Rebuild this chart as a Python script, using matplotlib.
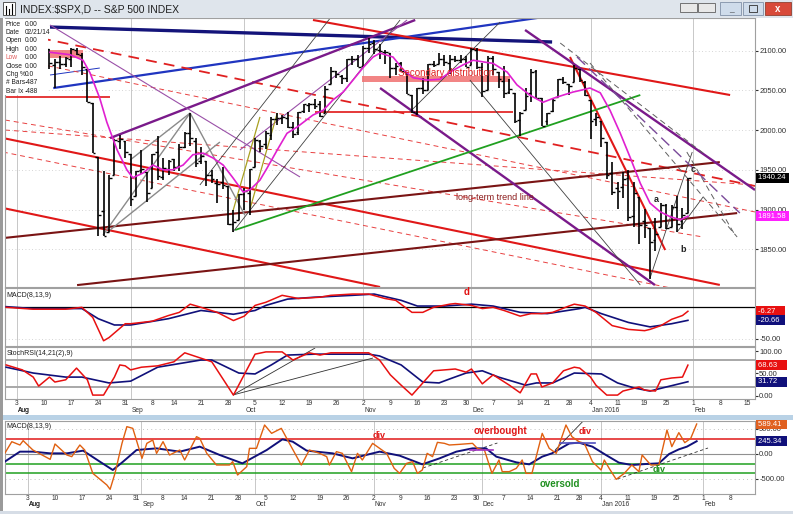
import numpy as np
import pandas as pd
import matplotlib
matplotlib.use("Agg")
import matplotlib.pyplot as plt
from matplotlib.patches import Rectangle

plt.rcParams['font.family'] = ['Liberation Sans', 'DejaVu Sans']

W, H = 793, 514

# trading days, position 0 = Aug 3 2015 (future weekdays kept for the axis)
holidays = ["2015-09-07", "2015-11-26", "2015-12-25", "2016-01-01", "2016-01-18"]
days = pd.bdate_range("2015-07-29", "2016-02-19")
days = days[~days.isin(pd.to_datetime(holidays))]
pos_all = np.arange(len(days)) - 3

# ---- S&P 500 daily bars, Jul 29 2015 .. Jan 29 2016 ----
opens = [2094, 2106, 2111,
         2104, 2097, 2095, 2100, 2082, 2081, 2102, 2082, 2086, 2083,
         2089, 2101, 2095, 2077, 2034, 1966, 1898, 1872, 1943, 1986,
         1986, 1970, 1917, 1950, 1947, 1927, 1972, 1941, 1951,
         1963, 1955, 1979, 1996, 1986, 1961, 1961, 1943, 1934, 1935,
         1929, 1882, 1887, 1920, 1921, 1954, 1986, 1983, 1994, 2014,
         2015, 2015, 2004, 1997, 2024, 2031, 2033, 2033, 2022, 2058,
         2075, 2068, 2066, 2089, 2090, 2081, 2103, 2110, 2101, 2098,
         2097, 2078, 2084, 2073, 2044, 2022, 2053, 2051, 2083, 2083,
         2089, 2084, 2089, 2088, 2090, 2082, 2101, 2080, 2051,
         2091, 2073, 2062, 2048, 2047, 2013, 2025, 2047, 2074, 2040,
         2011, 2024, 2042, 2064, 2058, 2060, 2077, 2061,
         2038, 2014, 2011, 1985, 1946, 1927, 1928, 1940, 1892, 1916,
         1886, 1877, 1861, 1878, 1906, 1878, 1903, 1885, 1895]
highs = [2110, 2110, 2114,
         2105, 2102, 2112, 2104, 2082, 2105, 2102, 2089, 2093, 2092,
         2103, 2103, 2097, 2077, 2034, 1966, 1948, 1943, 1989, 1994,
         1986, 1970, 1948, 1975, 1947, 1970, 1993, 1965, 1962,
         1964, 1983, 1997, 2021, 1990, 1979, 1961, 1950, 1938, 1953,
         1929, 1899, 1920, 1927, 1951, 1990, 1988, 1999, 2016, 2021,
         2019, 2023, 2010, 2023, 2033, 2034, 2039, 2037, 2055, 2079,
         2075, 2070, 2090, 2093, 2095, 2106, 2116, 2114, 2108, 2101,
         2097, 2084, 2086, 2073, 2044, 2053, 2066, 2083, 2087, 2097,
         2095, 2094, 2093, 2094, 2093, 2103, 2104, 2085, 2093,
         2093, 2073, 2081, 2065, 2047, 2023, 2053, 2077, 2076, 2040,
         2022, 2040, 2064, 2067, 2058, 2082, 2077, 2062,
         2038, 2021, 2011, 1985, 1960, 1935, 1947, 1950, 1935, 1916,
         1901, 1877, 1889, 1908, 1907, 1906, 1917, 1902, 1940]
lows = [2094, 2094, 2102,
        2088, 2088, 2095, 2073, 2068, 2081, 2077, 2053, 2077, 2080,
        2079, 2094, 2070, 2035, 1971, 1867, 1867, 1872, 1943, 1976,
        1965, 1904, 1917, 1945, 1909, 1927, 1937, 1937, 1944,
        1948, 1949, 1977, 1980, 1953, 1957, 1930, 1933, 1908, 1926,
        1880, 1872, 1887, 1900, 1893, 1954, 1972, 1976, 1987, 2007,
        2008, 2003, 1990, 1994, 2021, 2023, 2026, 2017, 2022, 2058,
        2066, 2058, 2060, 2082, 2079, 2081, 2097, 2096, 2090, 2083,
        2066, 2070, 2074, 2045, 2022, 2019, 2045, 2051, 2080, 2083,
        2081, 2071, 2086, 2084, 2080, 2082, 2077, 2042, 2051,
        2070, 2053, 2041, 2045, 2009, 1993, 2025, 2035, 2041, 2005,
        2006, 2023, 2042, 2058, 2044, 2060, 2061, 2043,
        1989, 2005, 1979, 1938, 1918, 1901, 1914, 1886, 1878, 1857,
        1864, 1812, 1848, 1878, 1876, 1878, 1872, 1875, 1895]
closes = [2108, 2108, 2104,
          2098, 2093, 2099, 2083, 2077, 2104, 2084, 2086, 2083, 2091,
          2102, 2096, 2079, 2035, 1971, 1893, 1867, 1940, 1988, 1989,
          1972, 1913, 1948, 1951, 1921, 1970, 1942, 1952, 1961,
          1953, 1979, 1996, 1990, 1958, 1967, 1943, 1938, 1932, 1931,
          1882, 1884, 1920, 1923, 1951, 1987, 1980, 1996, 2014, 2015,
          2017, 2004, 1995, 2023, 2033, 2033, 2030, 2018, 2052, 2075,
          2071, 2066, 2090, 2089, 2079, 2104, 2109, 2102, 2100, 2099,
          2078, 2081, 2075, 2045, 2023, 2053, 2050, 2083, 2082, 2089,
          2086, 2089, 2088, 2090, 2080, 2102, 2079, 2049, 2091,
          2077, 2064, 2047, 2052, 2012, 2022, 2043, 2073, 2041, 2005,
          2021, 2038, 2064, 2061, 2056, 2078, 2063, 2044,
          2012, 2016, 1990, 1943, 1922, 1923, 1938, 1890, 1921, 1880,
          1881, 1859, 1869, 1906, 1877, 1903, 1882, 1893, 1940.24]

# pink moving average (day position, value)
ma_day = [6.1, 9.8, 12.2, 13.5, 15.3, 16.6, 18.5, 20.3, 21.4, 23.3, 25.1, 27, 28.8,
          30.7, 32.5, 34.4, 36.2, 38.1, 39.9, 41.8, 43.1, 44.9, 46.2, 48.1, 49.9,
          51.8, 54.7, 56.6, 58.4, 60.3, 62.1, 64, 65.8, 67.1, 69.5, 71.4, 73.2,
          75.8, 78.2, 80, 82.4, 84.3, 86.1, 88, 90.6, 92.4, 94.8, 97.2, 99.1,
          100.9, 102.8, 104.1, 105.9, 107.8, 109.6, 111.5, 113.3, 115.2, 117,
          118.9, 120.7, 122.6, 124]
ma_val = [2098, 2095, 2088, 2072, 2040, 2010, 1975, 1950, 1940, 1946, 1956, 1950, 1950,
          1956, 1969, 1971, 1965, 1956, 1940, 1922, 1925, 1937, 1952, 1975, 1996,
          2004, 2019, 2025, 2038, 2048, 2063, 2079, 2092, 2097, 2092, 2076, 2066,
          2063, 2064, 2073, 2082, 2088, 2086, 2084, 2073, 2057, 2044, 2035, 2040,
          2044, 2048, 2050, 2053, 2047, 2025, 1996, 1966, 1933, 1908,
          1897, 1891, 1887, 1891.58]

# MACD(8,13,9) panel
macd_day = [-2, 3, 9, 12, 14, 16, 17, 20, 21, 25, 28, 30, 32, 34, 37, 40, 42, 44, 46, 49,
            52, 56, 58, 62, 65, 68, 70, 73, 75, 77, 80, 81, 84, 86, 88, 90, 93, 95, 97, 99,
            102, 103, 105, 107, 110, 113, 116, 117, 119, 121, 123, 124]
macd_val = [0, -3, -3, 0, -16, -53, -48, -26, -26, -22, -13, -8, 5, 0, -8, -21, -14, 3, 8, 19,
            14, 16, 19, 21, 21, 14, 11, -8, -8, 0, 5, 6, 3, -2, 0, -5, -14, -10, -10, -8,
            2, 5, 2, -8, -29, -35, -37, -35, -29, -19, -13, -6.27]
sig_day = [-2, 3, 9, 12, 15, 18, 21, 28, 34, 37, 40, 44, 46, 50, 55, 62, 66, 71, 74, 79,
           84, 88, 93, 98, 104, 105, 108, 113, 117, 121, 124]
sig_val = [1, -2, -2, -2, -18, -28, -28, -18, -5, -8, -11, -5, 3, 13, 16, 19, 21, 11, 2, 2,
           5, 2, -8, -10, -2, 0, -10, -24, -31, -26, -20.66]

# StochRSI(14,21(2),9) panel
st_day = [-2, 1, 3, 4, 6, 7, 9, 11, 13, 14, 16, 18, 19, 20, 21, 23, 26, 29, 31, 34,
          36, 40, 44, 46, 49, 51, 54, 56, 58, 62, 65, 67, 69, 71, 73, 75, 77, 81, 83, 84,
          86, 88, 91, 93, 95, 96, 97, 99, 101, 103, 104, 106, 107, 109, 111, 112, 115, 116,
          118, 119, 121, 123, 124]
st_val = [69, 58, 42, 22, 42, 31, 36, 62, 36, 2, 2, 42, 69, 67, 58, 64, 67, 76, 96, 84,
          76, 2, 93, 98, 98, 80, 96, 91, 96, 96, 96, 80, 47, 24, 2, 29, 56, 60, 53, 60,
          27, 47, 24, 7, 49, 49, 20, 29, 56, 64, 62, 42, 24, 2, 2, 11, 20, 13,
          11, 36, 40, 42, 68.63]
sts_day = [-2, 3, 9, 12, 17, 21, 26, 34, 36, 41, 44, 47, 50, 55, 65, 67, 71, 75, 78, 80,
           83, 86, 89, 94, 96, 99, 101, 103, 108, 111, 114, 117, 120, 124]
sts_val = [64, 51, 42, 42, 29, 33, 64, 80, 80, 51, 49, 69, 91, 93, 93, 89, 69, 31, 29, 38,
           51, 56, 42, 24, 29, 29, 40, 51, 49, 29, 18, 11, 20, 31.72]

# lower MACD(8,13,9) window
lo_day = [-4.3, -3.0, -1.5, -0.9, 0.9, 4.1, 5.0, 7.2, 8.1, 9.6, 10.5, 12.0, 14.6, 15.2, 16.1,
          17.4, 18.3, 19.4, 21.1, 22.0, 23.1, 23.8, 25.0, 26.2, 28.1, 29.0, 31.2, 31.8, 33.1,
          34.9, 37.3, 37.9, 38.8, 40.5, 41.0, 42.3, 43.8, 45.1, 46.9, 48.4, 50.6, 52.1, 54.0,
          55.3, 55.8, 57.1, 58.2, 59.9, 61.0, 61.9, 63.8, 66.4, 67.8, 68.8, 70.1, 71.2, 72.1,
          73.0, 73.9, 74.9, 75.8, 77.1, 78.0, 79.9, 82.3, 83.2, 84.5, 85.9, 87.2, 87.8, 89.1,
          90.4, 91.5, 92.2, 93.3, 95.2, 96.5, 97.8, 99.6, 100.7, 102.0, 103.0, 104.5, 106.1,
          106.7, 107.6, 108.9, 110.4, 111.8, 113.1, 113.7, 115.3, 116.8, 118.3, 119.2, 120.5,
          121.6, 122.7, 123.8]
lo_val = [5, 236, 170, 257, 70, -117, 190, -30, -63, 170, 70, -397, -630, -717, -397,
          203, 537, 503, -97, 203, 270, 3, 237, -30, 70, -130, 337, 303, 3,
          -230, -230, -163, -430, -263, 103, 103, 570, 403, 503, 203, -230, 70, 3,
          -63, -230, 37, 3, -363, 3, -130, 203, 3, -297, -397, -197, -163, -397,
          -330, 3, -63, 223, 203, 170, 183, 203, 103, 70, -397, -130, -363, -363,
          -297, -130, -397, -397, 403, 103, 3, 570, 337, 237, 203, -163, -330,
          -130, -297, -517, -397, -230, -363, -30, -230, -230, 470, 137, 417,
          217, 303, 589.41]
los_day = [-4.3, -1.5, 0.9, 4.1, 7.2, 10.2, 13.3, 15.7, 17.6, 20.1, 23.8, 28.1, 31.8, 35.5,
           39.7, 44.2, 47.1, 49.0, 51.6, 56.4, 60.1, 63.8, 65.1, 68.8, 73.0, 76.2, 79.3, 82.3,
           84.8, 86.7, 90.4, 92.8, 95.2, 97.0, 100.2, 102.0, 104.5, 107.0, 109.4, 111.8,
           114.4, 116.8, 118.7, 120.5, 122.0, 123.8]
los_val = [-163, 37, 37, 3, 3, 57, -163, -330, -163, 70, 103, 37, 137, -30,
           -197, 70, 283, 237, 57, 3, -97, 3, 37, -43, -217, -97, 37, 103,
           103, -63, -177, -217, -63, 3, 200, 217, 137, -30, -183, -230,
           -210, -197, -10, 83, 137, 245.34]

# hand-drawn trend lines on the price window (day, price, day, price)
navy_lines = [(6.1, 2129.8, 98.9, 2111.0)]
blue_lines = [(6.7, 2053.0, 96.7, 2141.8)]
blue_thin = [(6.1, 2069.4, 15.3, 2078.2)]
red_solid = [(54.7, 2138.7, 131.8, 2044.2), (-2.6, 1990.0, 129.9, 1805.0),
             (-2.6, 1901.9, 67.1, 1802.4), (102.2, 2092.1, 119.8, 1849.0)]
red_flat = [(-2.6, 2041.7, 17.2, 2041.7), (55.1, 2022.8, 91.7, 2022.8)]
red_dash_thick = [(4.25, 2116.0, 136.4, 1929.6)]
red_dash_thin = [(-2.2, 2092.1, 136.4, 1896.9), (-2.6, 1972.4, 122.6, 1798.7),
                 (-2.2, 2000.1, 136.4, 1930.8), (-2.2, 2012.7, 126.8, 1865.4)]
maroon_lines = [(-2.6, 1864.0, 129.9, 1959.7), (11.1, 1804.8, 133.1, 1895.5)]
purple_thick = [(17.2, 1990.0, 73.6, 2138.7), (93.9, 2126.1, 136.4, 1924.6),
                (67.1, 2053.0, 117.9, 1804.9)]
purple_thin = [(41.2, 1975.0, 72.1, 2138.7), (6.1, 2132.4, 52.3, 1941.0)]
green_lines = [(40.3, 1874.2, 115.2, 2044.2)]
olive_lines = [(39.9, 1897.8, 44.9, 2016.6), (43.1, 1901.6, 48.1, 2021.5)]
gray_lines = [(15.9, 1867.9, 32.0, 2021.5), (20.9, 1962.3, 32.0, 2021.5),
              (32.0, 2021.5, 42.1, 1893.1), (17.2, 1874.2, 37.5, 1985.0)]
black_thin = [(39.9, 1871.7, 70.8, 2138.7), (33.8, 1930.9, 57.9, 2141.2),
              (72.6, 2022.8, 89.3, 2136.1), (83.7, 2063.1, 115.2, 1804.9),
              (117.0, 1813.7, 124.8, 1972.4), (122.0, 1871.6, 126.8, 1915.7)]
gray_dash = [(100.4, 2109.7, 126.8, 1971.2), (105.9, 2084.5, 133.1, 1865.4),
             (123.8, 1972.4, 132.7, 1867.9)]
purple_dash = [(103.5, 2092.1, 133.6, 1895.6)]
pink_boxes = [(6.1, 2090.4, 12.2, 2100.9), (63.8, 2061.0, 91.1, 2068.1)]
stoch_lines = [(39.9, 2.2, 55.1, 106.7), (39.9, 2.2, 65.8, 84.4)]
low_dash = [(73.1, -290, 86.9, 210), (109.1, -510, 125.9, 110)]
low_solid = [(97.6, 70, 102.8, 650)]

fig = plt.figure(figsize=(W / 100, H / 100), dpi=100)
fig.patch.set_facecolor("white")


def px_axes(x0, y0, x1, y1):
    return fig.add_axes([x0 / W, 1 - y1 / H, (x1 - x0) / W, (y1 - y0) / H])


def segs(ax, lines, **kw):
    for x0, y0, x1, y1 in lines:
        ax.plot([x0, x1], [y0, y1], solid_capstyle="butt", **kw)


ax1 = px_axes(5, 18, 755, 287)
ax2 = px_axes(5, 288, 755, 346)
ax3 = px_axes(5, 347, 755, 399)
ax4 = px_axes(5, 421, 755, 494)

XL_TOP = (-2.22, 136.4)
XL_LOW = (-4.26, 134.6)
ax1.set_xlim(*XL_TOP); ax1.set_ylim(1802.4, 2141.2)
ax2.set_xlim(*XL_TOP); ax2.set_ylim(-61.3, 30.6)
ax3.set_xlim(*XL_TOP); ax3.set_ylim(-6.7, 108.9)
ax4.set_xlim(*XL_LOW); ax4.set_ylim(-810, 650)

month_pos = [p for i, p in enumerate(pos_all) if i > 0 and days[i].month != days[i - 1].month]
month_lab = [days[i].strftime("%b") if days[i].month != 1 else "Jan 2016"
             for i in range(1, len(days)) if days[i].month != days[i - 1].month]
month_pos = [0] + month_pos
month_lab = ["Aug"] + month_lab
week_pos = [p for i, p in enumerate(pos_all) if i > 0 and days[i].weekday() < days[i - 1].weekday()]
week_lab = [str(days[i].day) for i in range(1, len(days)) if days[i].weekday() < days[i - 1].weekday()]

for ax in (ax1, ax2, ax3, ax4):
    ax.set_facecolor("white")
    for s in ax.spines.values():
        s.set_color("#a0a0a0")
        s.set_linewidth(0.8)
    ax.yaxis.tick_right()
    ax.tick_params(axis="y", labelsize=5.5, length=2, pad=1, colors="#303030")
    ax.tick_params(axis="x", length=0)
    for mp in month_pos:
        ax.axvline(mp, color="#c8c8c8", lw=0.7, zorder=0)

ax1.set_xticks([]); ax2.set_xticks([])

# ---- price window ----
ax1.set_yticks([1850, 1900, 1950, 2000, 2050, 2100])
ax1.set_yticklabels(["%.2f" % v for v in [1850, 1900, 1950, 2000, 2050, 2100]])
for v in [1850, 1900, 1950, 2000, 2050, 2100]:
    ax1.axhline(v, color="#c8c8c8", lw=0.6, ls=(0, (1, 3)), zorder=0)

for x0, y0, x1, y1 in pink_boxes:
    ax1.add_patch(Rectangle((x0, y0), x1 - x0, y1 - y0, fc="#f07070", ec="none", alpha=0.85, zorder=1))

segs(ax1, navy_lines, color="#14147a", lw=2.4, zorder=2)
segs(ax1, blue_lines, color="#2035c0", lw=1.6, zorder=2)
segs(ax1, blue_thin, color="#2035c0", lw=0.7, zorder=2)
segs(ax1, red_solid, color="#e01818", lw=1.5, zorder=2)
segs(ax1, red_flat, color="#e01818", lw=1.2, zorder=2)
segs(ax1, red_dash_thick, color="#e02020", lw=1.3, ls=(0, (6, 4)), zorder=2)
segs(ax1, red_dash_thin, color="#e84040", lw=0.7, ls=(0, (5, 4)), zorder=2)
segs(ax1, maroon_lines, color="#7a1414", lw=1.5, zorder=2)
segs(ax1, purple_thick, color="#7a1a8a", lw=1.7, zorder=2)
segs(ax1, purple_thin, color="#9a50a8", lw=0.8, zorder=2)
segs(ax1, green_lines, color="#20a020", lw=1.3, zorder=2)
segs(ax1, olive_lines, color="#a8a020", lw=0.9, zorder=2)
segs(ax1, gray_lines, color="#8a8a8a", lw=1.0, zorder=2)
segs(ax1, black_thin, color="#404040", lw=0.6, zorder=2)
segs(ax1, gray_dash, color="#606060", lw=0.7, ls=(0, (6, 4)), zorder=2)
segs(ax1, purple_dash, color="#7a4a9a", lw=1.0, ls=(0, (8, 4)), zorder=2)

bp = pos_all[:len(closes)]
ax1.vlines(bp, lows, highs, color="black", lw=1.2, zorder=3)
ax1.hlines(opens, bp - 0.5, bp, color="black", lw=1.0, zorder=3)
ax1.hlines(closes, bp, bp + 0.5, color="black", lw=1.0, zorder=3)
ax1.plot(ma_day, ma_val, color="#e020d0", lw=1.2, zorder=4)

ax1.text(79.3, 2071.9, "Secondary distribution", color="#e02020", fontsize=7,
         ha="center", va="center", zorder=5)
ax1.text(81.2, 1915.5, "long-term trend line", color="#8b1a1a", fontsize=6.5,
         ha="left", va="center", zorder=5)
for t, x, y in [("a", 118.1, 1913), ("b", 123.1, 1850), ("c", 125.0, 1950)]:
    ax1.text(x, y, t, fontsize=6.5, fontweight="bold", color="#202020", ha="center", va="center", zorder=5)

yt1 = ax1.get_yaxis_transform()
ax1.text(1.004, 1940.24, "1940.24 ", transform=yt1, fontsize=5.5, color="white", va="center",
         bbox=dict(boxstyle="square,pad=0.2", fc="black", ec="none"), zorder=6, clip_on=False)
ax1.text(1.004, 1891.58, "1891.58 ", transform=yt1, fontsize=5.5, color="white", va="center",
         bbox=dict(boxstyle="square,pad=0.2", fc="#ff20ff", ec="none"), zorder=6, clip_on=False)

# ---- MACD window ----
ax2.axhline(0, color="black", lw=0.9, zorder=1)
ax2.axhline(-50, color="#c8c8c8", lw=0.6, ls=(0, (1, 3)), zorder=0)
ax2.plot(sig_day, sig_val, color="#10107a", lw=1.2, zorder=3)
ax2.plot(macd_day, macd_val, color="#e81010", lw=1.1, zorder=3)
ax2.set_yticks([-50])
ax2.set_yticklabels(["-50.00"])
ax2.text(0.002, 0.93, "MACD(8,13,9)", transform=ax2.transAxes, fontsize=5, va="top", color="#202020")
ax2.text(83, 24, "d", color="#e01010", fontsize=7, fontweight="bold", ha="center", va="center")
yt2 = ax2.get_yaxis_transform()
ax2.text(1.004, -6.27, "-6.27    ", transform=yt2, fontsize=5.5, color="white", va="center",
         bbox=dict(boxstyle="square,pad=0.2", fc="#e81010", ec="none"), zorder=6, clip_on=False)
ax2.text(1.004, -20.66, "-20.66  ", transform=yt2, fontsize=5.5, color="white", va="center",
         bbox=dict(boxstyle="square,pad=0.2", fc="#10107a", ec="none"), zorder=6, clip_on=False)

# ---- StochRSI window ----
ax3.axhline(80, color="#a8a8a8", lw=1.4, zorder=1)
ax3.axhline(20, color="#a8a8a8", lw=1.4, zorder=1)
segs(ax3, stoch_lines, color="#303030", lw=0.6, zorder=2)
ax3.plot(sts_day, sts_val, color="#10107a", lw=1.2, zorder=3)
ax3.plot(st_day, st_val, color="#e81010", lw=1.1, zorder=3)
ax3.set_yticks([0, 50, 100])
ax3.set_yticklabels(["0.00", "50.00", "100.00"])
ax3.text(0.002, 0.95, "StochRSI(14,21(2),9)", transform=ax3.transAxes, fontsize=5, va="top", color="#202020")
yt3 = ax3.get_yaxis_transform()
ax3.text(1.004, 68.63, "68.63    ", transform=yt3, fontsize=5.5, color="white", va="center",
         bbox=dict(boxstyle="square,pad=0.2", fc="#e81010", ec="none"), zorder=6, clip_on=False)
ax3.text(1.004, 31.72, "31.72    ", transform=yt3, fontsize=5.5, color="white", va="center",
         bbox=dict(boxstyle="square,pad=0.2", fc="#10107a", ec="none"), zorder=6, clip_on=False)


def date_axis(ax, xl):
    wp = [p for p in week_pos if xl[0] < p < xl[1] - 0.5]
    wl = [l for p, l in zip(week_pos, week_lab) if xl[0] < p < xl[1] - 0.5]
    ax.set_xticks(wp)
    ax.set_xticklabels(wl, fontsize=4.8, color="#303030")
    ax.tick_params(axis="x", pad=0.5)
    for p, l in zip(month_pos, month_lab):
        if xl[0] < p < xl[1] - 0.5:
            ax.annotate(l, xy=(p, 0), xycoords=("data", "axes fraction"), xytext=(1, -7.5),
                        textcoords="offset pixels", fontsize=4.8, color="#303030",
                        ha="left", va="top", annotation_clip=False)


date_axis(ax3, XL_TOP)

# ---- lower MACD window ----
ax4.axhline(290, color="#e01818", lw=1.1, zorder=1)
ax4.axhline(0, color="#909090", lw=0.8, zorder=1)
ax4.axhline(-215, color="#20a020", lw=1.1, zorder=1)
ax4.axhline(-395, color="#20a020", lw=1.1, zorder=1)
for v in (500, -500):
    ax4.axhline(v, color="#b0b0b0", lw=0.6, ls=(0, (1, 4)), zorder=0)
segs(ax4, low_dash, color="#303030", lw=0.6, ls=(0, (4, 3)), zorder=2)
segs(ax4, low_solid, color="#303030", lw=0.6, zorder=2)
ax4.plot([81.9, 86.1], [70, 70], color="#a030c0", lw=1.2, zorder=4)
ax4.plot([98.5, 105.0], [210, 210], color="#5050c0", lw=1.2, zorder=4)
ax4.plot(los_day, los_val, color="#10107a", lw=1.4, zorder=3)
ax4.plot(lo_day, lo_val, color="#e06010", lw=1.0, zorder=3)
ax4.set_yticks([-500, 0, 500])
ax4.set_yticklabels(["-500.00", "0.00", "500.00"])
ax4.text(0.002, 0.97, "MACD(8,13,9)", transform=ax4.transAxes, fontsize=5, va="top", color="#202020")
ax4.text(65, 350, "div", color="#e01818", fontsize=6.5, fontweight="bold", ha="center", va="center")
ax4.text(87.4, 450, "overbought", color="#e01818", fontsize=7, fontweight="bold", ha="center", va="center")
ax4.text(103.1, 430, "div", color="#e01818", fontsize=6.5, fontweight="bold", ha="center", va="center")
ax4.text(98.5, -610, "oversold", color="#209020", fontsize=7, fontweight="bold", ha="center", va="center")
ax4.text(116.9, -310, "div", color="#209020", fontsize=6.5, fontweight="bold", ha="center", va="center")
yt4 = ax4.get_yaxis_transform()
ax4.text(1.004, 589.41, "589.41  ", transform=yt4, fontsize=5.5, color="white", va="center",
         bbox=dict(boxstyle="square,pad=0.2", fc="#e06020", ec="none"), zorder=6, clip_on=False)
ax4.text(1.004, 245.34, "245.34  ", transform=yt4, fontsize=5.5, color="white", va="center",
         bbox=dict(boxstyle="square,pad=0.2", fc="#10107a", ec="none"), zorder=6, clip_on=False)
date_axis(ax4, XL_LOW)


# ---- window chrome ----
def fig_rect(x0, y0, x1, y1, **kw):
    fig.add_artist(Rectangle((x0 / W, 1 - y1 / H), (x1 - x0) / W, (y1 - y0) / H,
                             transform=fig.transFigure, **kw))


fig_rect(0, 0, W, 18, fc="#dfe5ec", ec="none", zorder=5)
fig_rect(0, 415, W, 420, fc="#b9d2e6", ec="none", zorder=5)
fig_rect(0, 18, 3, 514, fc="#9a9a9a", ec="none", zorder=5)
fig_rect(0, 511, W, 514, fc="#d6dde6", ec="none", zorder=5)
fig_rect(3, 2, 15, 15, fc="white", ec="#404040", lw=0.6, zorder=6)
for bx, bh in [(6, 8), (9, 5), (12, 10)]:
    fig.add_artist(plt.Line2D([bx / W, bx / W], [1 - 14 / H, 1 - (14 - bh) / H],
                              transform=fig.transFigure, color="black", lw=0.8, zorder=7))
fig.text(20 / W, 1 - 9.5 / H, "INDEX:$SPX,D -- S&P 500 INDEX", fontsize=7.5, color="#202020",
         va="center", ha="left", zorder=7)
fig_rect(680, 3, 697, 12, fc="#e8e8e8", ec="#606060", lw=0.6, zorder=6)
fig_rect(698, 3, 715, 12, fc="#e8e8e8", ec="#606060", lw=0.6, zorder=6)
fig_rect(720, 2, 741, 15, fc="#cfdceb", ec="#8090a8", lw=0.6, zorder=6)
fig_rect(743, 2, 763, 15, fc="#cfdceb", ec="#8090a8", lw=0.6, zorder=6)
fig_rect(765, 2, 791, 15, fc="#d84a3a", ec="#904030", lw=0.6, zorder=6)
fig.text(778 / W, 1 - 8.5 / H, "x", fontsize=7, color="white", fontweight="bold",
         ha="center", va="center", zorder=7)
fig.text(731 / W, 1 - 10 / H, "_", fontsize=6, color="#303030", ha="center", va="center", zorder=7)
fig_rect(749, 5, 757, 12, fc="none", ec="#303030", lw=0.6, zorder=7)

# info box at the top left of the price window
fig_rect(3, 19, 48, 95, fc="white", ec="none", zorder=5)
info_lab = ["Price", "Date", "Open", "High", "Low", "Close", "Chg %", "# Bars", "Bar Ix"]
info_val = ["0.00", "02/21/14", "0.00", "0.00", "0.00", "0.00", "0.0", "-487", "-488"]
for k, (lab, val) in enumerate(zip(info_lab, info_val)):
    yy = 24 + k * 8.4
    fig.text(6 / W, 1 - yy / H, lab, fontsize=4.8, color="#e06060" if lab == "Low" else "#202020",
             va="center", zorder=6)
    fig.text(25 / W, 1 - yy / H, val, fontsize=4.8, color="#202020", va="center", zorder=6)

fig.savefig("out.png", dpi=100, facecolor=fig.get_facecolor())
